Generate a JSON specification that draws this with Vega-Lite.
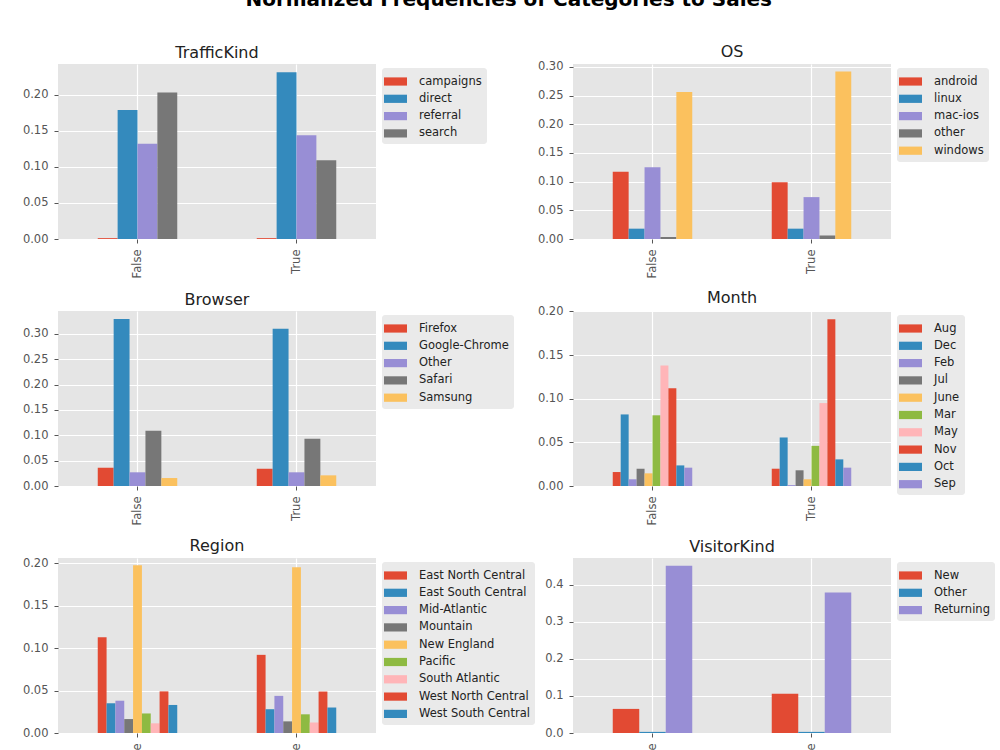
{
  "$schema": "https://vega.github.io/schema/vega-lite/v6.json",
  "background": "white",
  "autosize": "none",
  "padding": {"left": 58, "top": 64, "right": 942, "bottom": 686},
  "bounds": "flush",
  "title": {
    "text": "Normalized Frequencies of Categories to Sales",
    "font": "DejaVu Sans",
    "fontSize": 20,
    "fontWeight": "bold",
    "color": "#000000",
    "anchor": "middle",
    "frame": "bounds",
    "offset": 34
  },
  "datasets": {
    "freq": [
      {"panel": "TrafficKind", "sales": "False", "cat": "campaigns", "v": 0.0012},
      {"panel": "TrafficKind", "sales": "False", "cat": "direct", "v": 0.179},
      {"panel": "TrafficKind", "sales": "False", "cat": "referral", "v": 0.132},
      {"panel": "TrafficKind", "sales": "False", "cat": "search", "v": 0.203},
      {"panel": "TrafficKind", "sales": "True", "cat": "campaigns", "v": 0.0012},
      {"panel": "TrafficKind", "sales": "True", "cat": "direct", "v": 0.231},
      {"panel": "TrafficKind", "sales": "True", "cat": "referral", "v": 0.144},
      {"panel": "TrafficKind", "sales": "True", "cat": "search", "v": 0.109},

      {"panel": "OS", "sales": "False", "cat": "android", "v": 0.117},
      {"panel": "OS", "sales": "False", "cat": "linux", "v": 0.018},
      {"panel": "OS", "sales": "False", "cat": "mac-ios", "v": 0.125},
      {"panel": "OS", "sales": "False", "cat": "other", "v": 0.0035},
      {"panel": "OS", "sales": "False", "cat": "windows", "v": 0.256},
      {"panel": "OS", "sales": "True", "cat": "android", "v": 0.099},
      {"panel": "OS", "sales": "True", "cat": "linux", "v": 0.018},
      {"panel": "OS", "sales": "True", "cat": "mac-ios", "v": 0.073},
      {"panel": "OS", "sales": "True", "cat": "other", "v": 0.006},
      {"panel": "OS", "sales": "True", "cat": "windows", "v": 0.292},

      {"panel": "Browser", "sales": "False", "cat": "Firefox", "v": 0.036},
      {"panel": "Browser", "sales": "False", "cat": "Google-Chrome", "v": 0.329},
      {"panel": "Browser", "sales": "False", "cat": "Other", "v": 0.027},
      {"panel": "Browser", "sales": "False", "cat": "Safari", "v": 0.109},
      {"panel": "Browser", "sales": "False", "cat": "Samsung", "v": 0.0157},
      {"panel": "Browser", "sales": "True", "cat": "Firefox", "v": 0.034},
      {"panel": "Browser", "sales": "True", "cat": "Google-Chrome", "v": 0.31},
      {"panel": "Browser", "sales": "True", "cat": "Other", "v": 0.027},
      {"panel": "Browser", "sales": "True", "cat": "Safari", "v": 0.093},
      {"panel": "Browser", "sales": "True", "cat": "Samsung", "v": 0.021},

      {"panel": "Month", "sales": "False", "cat": "Aug", "v": 0.016},
      {"panel": "Month", "sales": "False", "cat": "Dec", "v": 0.082},
      {"panel": "Month", "sales": "False", "cat": "Feb", "v": 0.0077},
      {"panel": "Month", "sales": "False", "cat": "Jul", "v": 0.0198},
      {"panel": "Month", "sales": "False", "cat": "June", "v": 0.0145},
      {"panel": "Month", "sales": "False", "cat": "Mar", "v": 0.081},
      {"panel": "Month", "sales": "False", "cat": "May", "v": 0.138},
      {"panel": "Month", "sales": "False", "cat": "Nov", "v": 0.112},
      {"panel": "Month", "sales": "False", "cat": "Oct", "v": 0.0236},
      {"panel": "Month", "sales": "False", "cat": "Sep", "v": 0.021},
      {"panel": "Month", "sales": "True", "cat": "Aug", "v": 0.0198},
      {"panel": "Month", "sales": "True", "cat": "Dec", "v": 0.0556},
      {"panel": "Month", "sales": "True", "cat": "Feb", "v": 0.001},
      {"panel": "Month", "sales": "True", "cat": "Jul", "v": 0.018},
      {"panel": "Month", "sales": "True", "cat": "June", "v": 0.0077},
      {"panel": "Month", "sales": "True", "cat": "Mar", "v": 0.046},
      {"panel": "Month", "sales": "True", "cat": "May", "v": 0.095},
      {"panel": "Month", "sales": "True", "cat": "Nov", "v": 0.191},
      {"panel": "Month", "sales": "True", "cat": "Oct", "v": 0.0305},
      {"panel": "Month", "sales": "True", "cat": "Sep", "v": 0.021},

      {"panel": "Region", "sales": "False", "cat": "East North Central", "v": 0.1127},
      {"panel": "Region", "sales": "False", "cat": "East South Central", "v": 0.035},
      {"panel": "Region", "sales": "False", "cat": "Mid-Atlantic", "v": 0.038},
      {"panel": "Region", "sales": "False", "cat": "Mountain", "v": 0.0164},
      {"panel": "Region", "sales": "False", "cat": "New England", "v": 0.1976},
      {"panel": "Region", "sales": "False", "cat": "Pacific", "v": 0.023},
      {"panel": "Region", "sales": "False", "cat": "South Atlantic", "v": 0.0114},
      {"panel": "Region", "sales": "False", "cat": "West North Central", "v": 0.049},
      {"panel": "Region", "sales": "False", "cat": "West South Central", "v": 0.033},
      {"panel": "Region", "sales": "True", "cat": "East North Central", "v": 0.092},
      {"panel": "Region", "sales": "True", "cat": "East South Central", "v": 0.028},
      {"panel": "Region", "sales": "True", "cat": "Mid-Atlantic", "v": 0.0437},
      {"panel": "Region", "sales": "True", "cat": "Mountain", "v": 0.0137},
      {"panel": "Region", "sales": "True", "cat": "New England", "v": 0.195},
      {"panel": "Region", "sales": "True", "cat": "Pacific", "v": 0.022},
      {"panel": "Region", "sales": "True", "cat": "South Atlantic", "v": 0.0125},
      {"panel": "Region", "sales": "True", "cat": "West North Central", "v": 0.0488},
      {"panel": "Region", "sales": "True", "cat": "West South Central", "v": 0.03},

      {"panel": "VisitorKind", "sales": "False", "cat": "New", "v": 0.065},
      {"panel": "VisitorKind", "sales": "False", "cat": "Other", "v": 0.003},
      {"panel": "VisitorKind", "sales": "False", "cat": "Returning", "v": 0.451},
      {"panel": "VisitorKind", "sales": "True", "cat": "New", "v": 0.106},
      {"panel": "VisitorKind", "sales": "True", "cat": "Other", "v": 0.003},
      {"panel": "VisitorKind", "sales": "True", "cat": "Returning", "v": 0.379}
    ]
  },
  "columns": 2,
  "spacing": {"row": 72, "column": 197},
  "resolve": {"scale": {"color": "independent", "xOffset": "independent", "x": "independent", "y": "independent"}},
  "concat": [
    {
      "title": {"text": "TrafficKind"},
      "width": 318, "height": 175,
      "data": {"name": "freq"},
      "transform": [{"filter": "datum.panel === 'TrafficKind'"}],
      "mark": "bar",
      "encoding": {
        "x": {"field": "sales", "type": "nominal", "title": null, "scale": {"paddingInner": 0.5, "paddingOuter": 0.25}},
        "xOffset": {"field": "cat", "type": "nominal", "scale": {"paddingInner": 0, "paddingOuter": 0}},
        "y": {"field": "v", "type": "quantitative", "title": null, "scale": {"domain": [0, 0.2426], "nice": false},
              "axis": {"values": [0, 0.05, 0.1, 0.15, 0.2], "format": ".2f"}},
        "color": {"field": "cat", "type": "nominal", "legend": {"title": null}}
      }
    },
    {
      "title": {"text": "OS", "dy": 2},
      "width": 318, "height": 175,
      "data": {"name": "freq"},
      "transform": [{"filter": "datum.panel === 'OS'"}],
      "mark": "bar",
      "encoding": {
        "x": {"field": "sales", "type": "nominal", "title": null, "scale": {"paddingInner": 0.5, "paddingOuter": 0.25}},
        "xOffset": {"field": "cat", "type": "nominal", "scale": {"paddingInner": 0, "paddingOuter": 0}},
        "y": {"field": "v", "type": "quantitative", "title": null, "scale": {"domain": [0, 0.305], "nice": false},
              "axis": {"values": [0, 0.05, 0.1, 0.15, 0.2, 0.25, 0.3], "format": ".2f"}},
        "color": {"field": "cat", "type": "nominal", "legend": {"title": null}}
      }
    },
    {
      "title": {"text": "Browser"},
      "width": 318, "height": 175,
      "data": {"name": "freq"},
      "transform": [{"filter": "datum.panel === 'Browser'"}],
      "mark": "bar",
      "encoding": {
        "x": {"field": "sales", "type": "nominal", "title": null, "scale": {"paddingInner": 0.5, "paddingOuter": 0.25}},
        "xOffset": {"field": "cat", "type": "nominal", "scale": {"paddingInner": 0, "paddingOuter": 0}},
        "y": {"field": "v", "type": "quantitative", "title": null, "scale": {"domain": [0, 0.345], "nice": false},
              "axis": {"values": [0, 0.05, 0.1, 0.15, 0.2, 0.25, 0.3], "format": ".2f"}},
        "color": {"field": "cat", "type": "nominal", "legend": {"title": null}}
      }
    },
    {
      "title": {"text": "Month", "dy": 4},
      "width": 318, "height": 175,
      "data": {"name": "freq"},
      "transform": [{"filter": "datum.panel === 'Month'"}],
      "mark": "bar",
      "encoding": {
        "x": {"field": "sales", "type": "nominal", "title": null, "scale": {"paddingInner": 0.5, "paddingOuter": 0.25}},
        "xOffset": {"field": "cat", "type": "nominal", "scale": {"paddingInner": 0, "paddingOuter": 0}},
        "y": {"field": "v", "type": "quantitative", "title": null, "scale": {"domain": [0, 0.2005], "nice": false},
              "axis": {"values": [0, 0.05, 0.1, 0.15, 0.2], "format": ".2f"}},
        "color": {"field": "cat", "type": "nominal", "legend": {"title": null}}
      }
    },
    {
      "title": {"text": "Region"},
      "width": 318, "height": 175,
      "data": {"name": "freq"},
      "transform": [{"filter": "datum.panel === 'Region'"}],
      "mark": "bar",
      "encoding": {
        "x": {"field": "sales", "type": "nominal", "title": null, "scale": {"paddingInner": 0.5, "paddingOuter": 0.25}},
        "xOffset": {"field": "cat", "type": "nominal", "scale": {"paddingInner": 0, "paddingOuter": 0}},
        "y": {"field": "v", "type": "quantitative", "title": null, "scale": {"domain": [0, 0.206], "nice": false},
              "axis": {"values": [0, 0.05, 0.1, 0.15, 0.2], "format": ".2f"}},
        "color": {"field": "cat", "type": "nominal", "legend": {"title": null}}
      }
    },
    {
      "title": {"text": "VisitorKind"},
      "width": 318, "height": 175,
      "data": {"name": "freq"},
      "transform": [{"filter": "datum.panel === 'VisitorKind'"}],
      "mark": "bar",
      "encoding": {
        "x": {"field": "sales", "type": "nominal", "title": null, "scale": {"paddingInner": 0.5, "paddingOuter": 0.25}},
        "xOffset": {"field": "cat", "type": "nominal", "scale": {"paddingInner": 0, "paddingOuter": 0}},
        "y": {"field": "v", "type": "quantitative", "title": null, "scale": {"domain": [0, 0.472], "nice": false},
              "axis": {"values": [0, 0.1, 0.2, 0.3, 0.4], "format": ".1f"}},
        "color": {"field": "cat", "type": "nominal", "legend": {"title": null}}
      }
    }
  ],
  "config": {
    "font": "DejaVu Sans",
    "view": {"fill": "#E5E5E5", "stroke": null},
    "range": {
      "category": ["#E24A33", "#348ABD", "#988ED5", "#777777", "#FBC15E", "#8EBA42", "#FFB5B8", "#E24A33", "#348ABD", "#988ED5"]
    },
    "title": {
      "font": "DejaVu Sans",
      "fontSize": 16,
      "fontWeight": "normal",
      "color": "#222222",
      "anchor": "middle",
      "frame": "group",
      "offset": 3
    },
    "axis": {
      "domain": false,
      "grid": true,
      "gridColor": "#FFFFFF",
      "gridWidth": 1.2,
      "tickColor": "#555555",
      "tickSize": 4,
      "labelColor": "#555555",
      "labelFont": "DejaVu Sans",
      "labelFontSize": 11.5,
      "labelPadding": 6,
      "labelFlush": false,
      "labelOverlap": false
    },
    "axisX": {"labelAngle": 270, "bandPosition": 0.5},
    "legend": {
      "orient": "none",
      "legendX": 324,
      "legendY": 4,
      "fillColor": "#EAEAEA",
      "padding": 5,
      "cornerRadius": 3,
      "symbolType": "M-1.4,-0.5H1.4V0.5H-1.4Z",
      "symbolSize": 270,
      "symbolStrokeWidth": 0,
      "symbolOpacity": 1,
      "labelFont": "DejaVu Sans",
      "labelFontSize": 11.5,
      "labelColor": "#222222",
      "labelOffset": 15,
      "rowPadding": 3.3
    }
  }
}
